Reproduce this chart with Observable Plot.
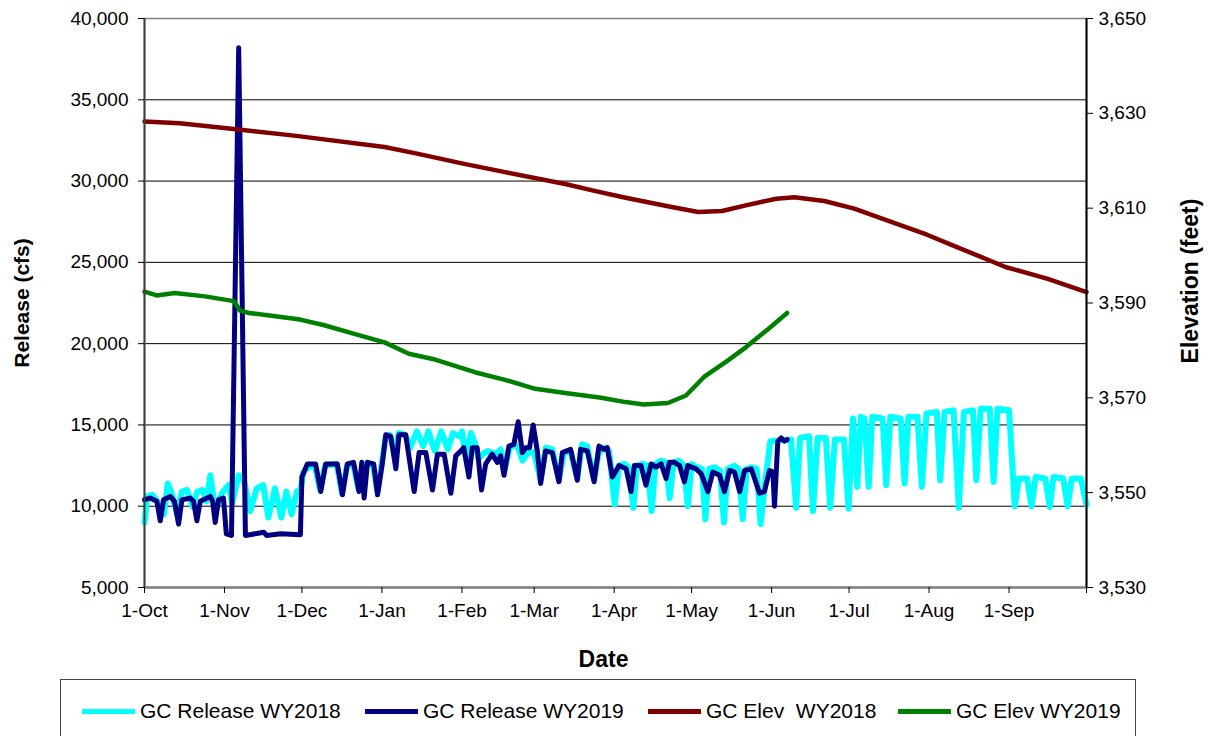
<!DOCTYPE html>
<html>
<head>
<meta charset="utf-8">
<script src="https://cdn.jsdelivr.net/npm/d3@7"></script>
<script src="https://cdn.jsdelivr.net/npm/@observablehq/plot@0.6"></script>
<style>
  html, body { margin: 0; padding: 0; background: #fff; }
  #wrap { position: relative; width: 1209px; height: 736px; overflow: hidden; font-family: "Liberation Sans", Arial, sans-serif; }
  #legend { position: absolute; left: 60px; top: 679px; width: 1076px; height: 80px; border: 1px solid #444; box-sizing: border-box; }
  .sw { position: absolute; height: 5px; width: 53px; top: 29px; }
  .lt { position: absolute; top: 18px; font-size: 21px; line-height: 26px; white-space: pre; color: #000; }
</style>
</head>
<body>
<div id="wrap"><div id="chart"></div><div id="legend"></div></div>
<script>
// ---------------- data ----------------
const waterYearStart = "2017-10-01";
const waterYearEnd = "2018-10-01";
const monthTicks = ["2017-10-01","2017-11-01","2017-12-01","2018-01-01","2018-02-01","2018-03-01","2018-04-01","2018-05-01","2018-06-01","2018-07-01","2018-08-01","2018-09-01","2018-10-01"];
const monthLabels = ["1-Oct","1-Nov","1-Dec","1-Jan","1-Feb","1-Mar","1-Apr","1-May","1-Jun","1-Jul","1-Aug","1-Sep",""];
const releaseTicks = [5000,10000,15000,20000,25000,30000,35000,40000];
const elevTicks = [3530,3550,3570,3590,3610,3630,3650];
const seriesNames = ["GC Release WY2018","GC Release WY2019","GC Elev  WY2018","GC Elev WY2019"];
const seriesColors = ["#00FFFF","#000080","#800000","#008000"];

// [day of water year, release cfs]
const releaseWY2018 = [
[0,9000],[1,10600],[3,10700],[5,10300],[7.5,9500],[9,11400],[10.5,10800],[12.5,9600],[14.5,10900],[16.5,11000],[18.5,10000],[20.5,10900],[22.5,11000],[24,10300],[25.5,11900],[27.5,9700],[30,10800],[32.5,11300],[34,10200],[36.5,11900],[38.5,11600],[41,9700],[43.5,11100],[46,11300],[48,9300],[50.5,11100],[53,9300],[55,10900],[57,9500],[59,10900],[60.5,11000],[61.5,12100],
[63.5,12400],[66,12500],[68,11000],[70,12500],[74.5,12600],[76.5,10800],[78.5,12500],[81,12500],[83,11000],[85.5,12600],[88.5,12500],[90.3,10900],[92,12700],[93.5,14300],
[95,14400],[97,13300],[98.5,14500],[101,14400],[103,13600],[105.5,14600],[108,13700],[110,14600],[112.5,13400],[115,14600],[117.5,13500],[119.5,14500],[122,14300],[123,14600],[124.5,13000],[126.5,14500],[128,13900],[129.5,12900],
[131,13200],[133,13400],[136,13200],[138,13500],[139.5,12200],[141.5,13600],[143.5,13800],[145,13500],[146.5,12800],[148.5,13300],[151,13300],[153.5,11600],[155.5,13600],[158,13500],[160.6,11600],[162.5,13300],[165,13400],[167.7,11700],[169.5,13800],[171.5,13700],[174.2,11600],[176,13300],[178.5,13600],[180,13400],[182.2,10100],[183.8,12500],
[186,12600],[187.5,12400],[189.4,9900],[190.8,12500],[193,12600],[194.8,12500],[196.5,9700],[198,12600],[200,12800],[202,12700],[203.5,10500],[205,12700],[207,12800],[209,12500],[210.5,10000],[212,12600],[214,12400],[216,12300],[217.3,9200],[218.8,12300],[221,12400],[223,12200],[224.5,9000],[226,12300],[228.5,12500],[230.2,12300],[231.8,9200],[233.3,12300],[235.5,12400],[237.2,12300],[238.7,8900],[240.5,11500],[242.5,14000],
[250.5,14100],[252.5,9900],[254,14200],[257.5,14300],[259,9700],[260.8,14200],[264,14200],[265.7,9900],[267.5,14100],[271,14100],[272.8,9850],[274.5,15400],[276.2,11200],[277.5,15500],[279,15400],[280.6,11200],[282,15500],[286,15400],[287.4,11300],[289,15500],[293,15400],[294.5,11400],[296,15500],[299.5,15500],[301.2,11200],[303,15700],[307,15800],[308.3,11600],[310,15800],[313.5,15900],[315.5,9900],[317.5,15800],[321,15900],[322.3,11600],[324,16000],[327.5,16000],[329,11500],[330.5,16000],[335,15900],[337.2,10000],[338.8,11700],[342,11700],[343.7,10000],[345.3,11800],[349,11700],[350.8,9950],[352.2,11800],[356,11700],[357.7,10000],[359.3,11700],[362.8,11700],[365,10100]
];

const releaseWY2019 = [
[0,10400],[2.2,10500],[4.8,10300],[6.1,9100],[7.4,10400],[10,10600],[11.6,10300],[13.2,8900],[14.5,10400],[17.7,10500],[19,10300],[20.3,9100],[21.6,10300],[25.5,10600],[26.4,10300],[27.4,9000],[28.7,10400],[30.6,10500],[31.7,8300],[33.7,8200],[36.5,38200],[39.1,8200],[46.2,8400],[47.3,8200],[52.8,8300],[60.4,8250],
[61,11800],[63.1,12600],[66.3,12600],[68.3,10900],[70.2,12600],[74.7,12600],[76.7,10700],[78.6,12600],[81,12700],[83.1,10900],[84.2,12700],[85.1,10500],[86.4,12700],[88.8,12600],[90.3,10700],[92.2,12700],
[93.5,14400],[95.4,14300],[97.4,12300],[98.6,14400],[101.2,14400],[104.5,10900],[106.4,13300],[109,13300],[111.6,11000],[113.5,13200],[116.1,13200],[118.7,10800],[120.6,13100],[122.6,13400],
[123.7,13600],[125.7,11800],[127,13600],[128.9,13600],[130.6,11000],[132.2,12600],[134.7,13200],[136.7,12700],[138,13100],[139.3,11900],[141.2,13700],[143.1,13800],[144.8,15200],[146.4,13300],[147.7,13600],[149.2,13600],[150.6,15000],
[152.2,13400],[153.5,11400],[155.4,13400],[158,13300],[160.6,11500],[161.9,13300],[165.1,13500],[167.7,11600],[169,13500],[171.6,13400],[174.2,11500],[176.1,13700],[178.1,13500],[179.3,13600],[181.3,11800],
[183.9,12500],[186.6,12300],[188.5,10900],[189.8,12500],[192.4,12500],[194.3,11300],[196.3,12600],[198.2,12400],[200.2,12600],[202.1,11700],[203.4,12700],[205.3,12700],[207.3,12500],[209.2,11500],[210.5,12500],
[213.7,12300],[215.7,12000],[218.3,10900],[220.2,12100],[222.8,11900],[224.7,10900],[226.7,12200],[228.6,12100],[230.6,10900],[232.5,12200],[235.1,12300],[238.3,10800],[240.2,10900],[242.2,12200],[243.5,12100],
[244.1,10000],[245.4,14000],[246.7,14200],[248,14000],[249,14100]
];

// [day of water year, elevation feet]
const elevWY2018 = [
[0,3628.3],[13.6,3627.9],[34.6,3626.7],[58,3625.3],[93,3622.9],[104.7,3621.6],[123.4,3619.4],[139.7,3617.6],[163,3615.1],[174.8,3613.6],[186.4,3612.2],[202.8,3610.4],[214.5,3609.2],[223.8,3609.4],[233,3610.6],[244.8,3612.0],[251.8,3612.3],[263.4,3611.5],[275,3609.9],[291.5,3606.7],[303.2,3604.4],[314.8,3601.8],[333.6,3597.6],[350,3595.1],[365,3592.3]
];
const elevWY2019 = [
[0,3592.4],[4.7,3591.6],[11.7,3592.1],[23.4,3591.4],[34.6,3590.4],[37,3588.4],[40.5,3587.9],[60.3,3586.5],[69.7,3585.3],[81.3,3583.5],[93,3581.7],[102.4,3579.3],[111.7,3578.2],[128,3575.4],[139.7,3573.8],[151.4,3571.9],[163,3571.0],[177,3570.0],[186.4,3569.1],[193.4,3568.6],[202.8,3568.9],[209.8,3570.5],[216.8,3574.4],[226.1,3577.9],[233.1,3580.7],[242.5,3584.9],[249,3587.9]
];

// ---------------- helpers ----------------
const t0 = new Date(waterYearStart + "T00:00:00Z");
const dayToDate = d => new Date(t0.getTime() + d * 86400000);
const relMin = 5000, relMax = 40000, elMin = 3530, elMax = 3650;
const toRel = e => relMin + (e - elMin) * (relMax - relMin) / (elMax - elMin);
const toElev = r => elMin + (r - relMin) * (elMax - elMin) / (relMax - relMin);
const tickDates = monthTicks.map(s => new Date(s + "T00:00:00Z"));
const labelMap = new Map(tickDates.map((d, i) => [+d, monthLabels[i]]));
const fmt = d3.format(",");

const lineOf = (data, color, w, isElev) => Plot.line(data, {
  x: d => dayToDate(d[0]),
  y: d => isElev ? toRel(d[1]) : d[1],
  stroke: color, strokeWidth: w, strokeLinejoin: "round", strokeLinecap: "round"
});

const chart = Plot.plot({
  width: 1209,
  height: 680,
  marginLeft: 144,
  marginRight: 123,
  marginTop: 18,
  marginBottom: 93,
  style: { fontFamily: "'Liberation Sans', Arial, sans-serif", fontSize: "19px", color: "#000", background: "#fff", overflow: "visible" },
  x: { type: "utc", domain: [t0, new Date(waterYearEnd + "T00:00:00Z")] },
  y: { domain: [relMin, relMax] },
  marks: [
    Plot.gridY(releaseTicks.filter(v => v > relMin && v < relMax), { stroke: "#000", strokeOpacity: 1, strokeWidth: 1 }),
    Plot.frame({ stroke: "#808080", strokeWidth: 1.5 }),
    Plot.ruleY([relMin], { stroke: "#808080", strokeWidth: 2.5 }),
    lineOf(releaseWY2018, seriesColors[0], 6, false),
    lineOf(releaseWY2019, seriesColors[1], 5, false),
    lineOf(elevWY2018, seriesColors[2], 4.5, true),
    lineOf(elevWY2019, seriesColors[3], 4.5, true),
    Plot.ruleX([t0], { stroke: "#404040", strokeWidth: 2 }),
    Plot.ruleX([new Date(waterYearEnd + "T00:00:00Z")], { stroke: "#000", strokeWidth: 2 }),
    Plot.axisY(releaseTicks, { anchor: "left", tickFormat: fmt, tickSize: 6, tickPadding: 10, label: null }),
    Plot.axisY(elevTicks.map(toRel), { anchor: "right", tickFormat: d => fmt(Math.round(toElev(d))), tickSize: 6, tickPadding: 6, label: null }),
    Plot.axisX(tickDates, { tickFormat: d => labelMap.get(+d) ?? "", tickSize: 6, tickPadding: 10, label: null }),
    Plot.text(["Release (cfs)"], { text: d => d, frameAnchor: "left", textAnchor: "middle", dx: -122, rotate: -90, fontSize: 21, fontWeight: "bold" }),
    Plot.text(["Elevation (feet)"], { text: d => d, frameAnchor: "right", textAnchor: "middle", dx: 104, dy: -22, rotate: -90, fontSize: 23, fontWeight: "bold" }),
    Plot.text(["Date"], { text: d => d, frameAnchor: "bottom", textAnchor: "middle", dx: -12, dy: 79, fontSize: 23, fontWeight: "bold" })
  ]
});
document.getElementById("chart").appendChild(chart);

// legend
const legend = document.getElementById("legend");
const swatchLeft = [82, 365, 648, 898];
seriesNames.forEach((name, i) => {
  const sw = document.createElement("div");
  sw.className = "sw";
  sw.style.left = (swatchLeft[i] - 61) + "px";
  sw.style.background = seriesColors[i];
  legend.appendChild(sw);
  const t = document.createElement("div");
  t.className = "lt";
  t.style.left = (swatchLeft[i] - 61 + 58) + "px";
  t.textContent = name;
  legend.appendChild(t);
});
</script>
</body>
</html>
